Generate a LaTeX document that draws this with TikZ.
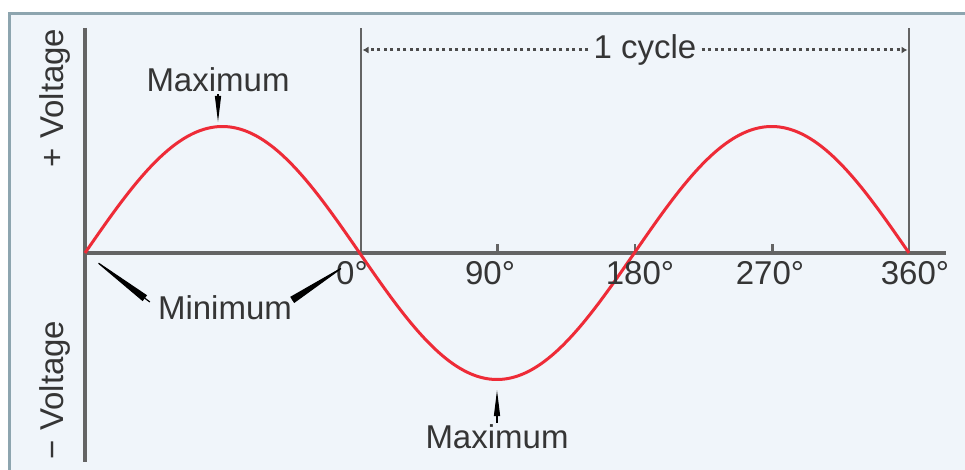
\documentclass[tikz,border=0pt]{standalone}
\usepackage{fontspec}
\setmainfont{Liberation Sans}
\usetikzlibrary{arrows.meta}
\definecolor{framebg}{HTML}{F0F5FA}
\definecolor{frameline}{HTML}{8DA5AF}
\definecolor{axisgray}{HTML}{646464}
\definecolor{wavered}{HTML}{EE2B37}
\definecolor{labeltext}{HTML}{353535}
\begin{document}
\begin{tikzpicture}[x=1pt,y=-1pt,every node/.style={inner sep=0pt,text=labeltext,font=\fontsize{33}{33}\selectfont}]
\tikzstyle{axis}=[draw,axisgray,line width=3.3pt]
\tikzstyle{pointer}=[draw,black,line width=1.2pt,-{Triangle[length=26pt,width=6pt]}]
\tikzstyle{longpointer}=[draw,black,line width=1.2pt,-{Triangle[length=70pt,width=7pt]}]
\tikzstyle{span}=[draw,black!70,line width=3pt,dash pattern=on 3pt off 3.5pt,-{Latex[length=6pt,width=7pt]}]
\useasboundingbox (0,0) rectangle (965,470);
\fill[framebg] (8,12) rectangle (965,470);
\draw[frameline,line width=3pt] (9.5,470) -- (9.5,13.5) -- (965,13.5);

\coordinate (o) at (85,253);
\coordinate (vtop) at (85,28);
\coordinate (vbot) at (85,462);
\coordinate (hend) at (946,253);
\coordinate (z0) at (361,253);
\coordinate (z0top) at (361,28);
\coordinate (z360) at (909,253);
\coordinate (z360top) at (909,28);
\path[axis] (vtop)--(vbot);
\path[axis] (o)--(hend);
\path[axis,line width=2.8pt] (z0)--(z0top);
\path[axis,line width=2.8pt] (z360)--(z360top);
\foreach \t in {497.5,635,772.5}
  \path[axis,line width=2.8pt] (\t,253)--(\t,244);

\draw[wavered,line width=3pt] plot[domain=85:909,samples=160,smooth] (\x,{253-126.5*sin((\x-85)/274.67*180)});

\node (max1) at (218,80) {Maximum};
\node (max2) at (497,437) {Maximum};
\node (mini) at (225,308) {Minimum};
\node (d0) at (352,273) {0°};
\node (d90) at (490,273) {90°};
\node (d180) at (640,273) {180°};
\node (d270) at (770,273) {270°};
\node (d360) at (915,273) {360°};
\node[rotate=90] (vplus) at (55,98) {+ Voltage};
\node[rotate=90] (vminus) at (55,390) {− Voltage};
\node[fill=framebg,inner xsep=5pt] (cycle) at (645,50) {1 cycle};

\coordinate (peak) at (218,122);
\coordinate (trough) at (497,390);
\coordinate (left0) at (89,256);
\coordinate (right0) at (351,262);
\coordinate (cstart) at (362.5,50);
\coordinate (cend) at (907.5,50);

\path[pointer] ([yshift=-2pt]max1.south)--(peak);
\path[pointer] ([yshift=2pt]max2.north)--(trough);
\path[longpointer] ([shift={(-8,-6)}]mini.west)--(left0);
\path[longpointer] ([shift={(0,-8)}]mini.east)--(right0);
\path[span] (cycle.west)--(cstart);
\path[span] (cycle.east)--(cend);
\end{tikzpicture}
\end{document}
